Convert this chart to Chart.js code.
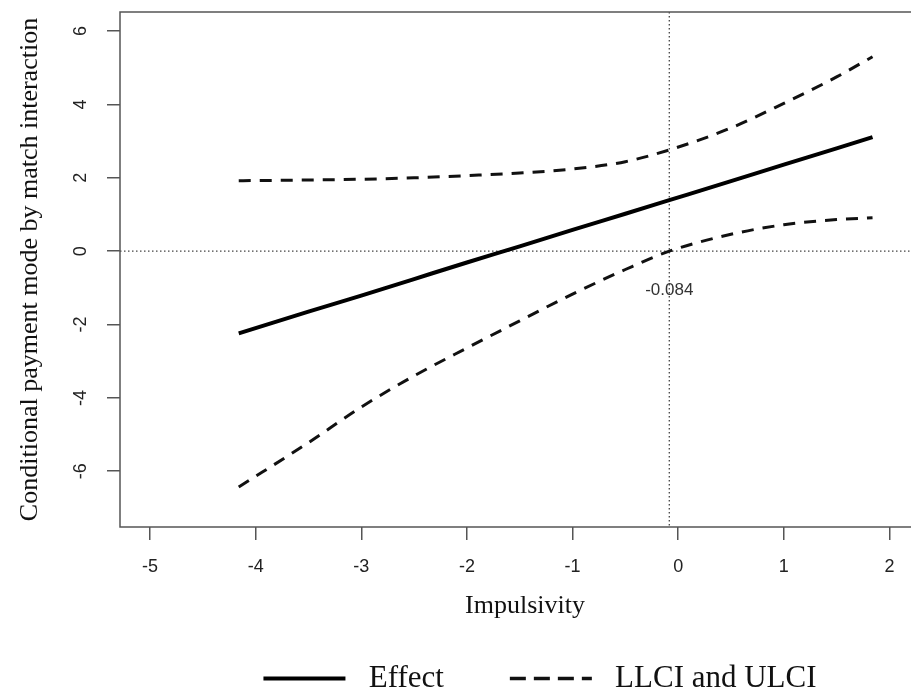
<!DOCTYPE html>
<html>
<head>
<meta charset="utf-8">
<title>Conditional effect by impulsivity</title>
<script src="https://cdn.jsdelivr.net/npm/chart.js@4.4.1/dist/chart.umd.min.js"></script>
<style>
  html, body { margin: 0; padding: 0; background: #fff; overflow: hidden; }
  #jn-chart { display: block; }
</style>
</head>
<body>
<canvas id="jn-chart" width="1080" height="704"></canvas>
<script>
/* ─── DATA ─── */
const impulsivity = [-4.16, -3.5, -3.0, -2.5, -2.0, -1.5, -1.0, -0.5, -0.084, 0.5, 1.0, 1.5, 1.84];
const effect      = [-2.24, -1.65, -1.21, -0.76, -0.31, 0.13, 0.58, 1.02, 1.39, 1.91, 2.36, 2.80, 3.11];
const llci        = [-6.43, -5.22, -4.25, -3.40, -2.64, -1.90, -1.17, -0.50, 0.00, 0.46, 0.72, 0.86, 0.91];
const ulci        = [1.92, 1.94, 1.96, 2.00, 2.06, 2.13, 2.24, 2.44, 2.76, 3.36, 4.03, 4.75, 5.30];

const xTicks = [-5, -4, -3, -2, -1, 0, 1, 2];
const yTicks = [-6, -4, -2, 0, 2, 4, 6];
const jnPoint = -0.084;   // Johnson-Neyman point

const xLabel = 'Impulsivity';
const yLabel = 'Conditional payment mode by match interaction';
const legendLabels = ['Effect', 'LLCI and ULCI'];

/* ─── STYLE ─── */
const SERIF = '"Liberation Serif", "DejaVu Serif", serif';
const SANS  = '"Liberation Sans", Arial, sans-serif';
const AXIS  = '#555';

const toPoints = ys => impulsivity.map((x, i) => ({ x, y: ys[i] }));

/* ─── PLUGINS ─── */
const refLines = {
  id: 'refLines',
  beforeDatasetsDraw(chart) {
    const { ctx, chartArea: a, scales: { x, y } } = chart;
    const y0 = y.getPixelForValue(0);
    const xj = x.getPixelForValue(jnPoint);
    ctx.save();
    ctx.font = '17px ' + SANS;
    ctx.fillStyle = '#333';
    ctx.textAlign = 'center';
    ctx.textBaseline = 'middle';
    ctx.fillText(jnPoint.toFixed(3), xj, y0 + 39);
    ctx.strokeStyle = '#444';
    ctx.lineWidth = 1.3;
    ctx.setLineDash([1.5, 2.5]);
    ctx.beginPath();
    ctx.moveTo(a.left, y0);  ctx.lineTo(a.right, y0);
    ctx.moveTo(xj, a.top);   ctx.lineTo(xj, a.bottom);
    ctx.stroke();
    ctx.restore();
  }
};

const frame = {
  id: 'frame',
  afterDatasetsDraw(chart) {
    const { ctx, chartArea: a } = chart;
    ctx.save();
    ctx.strokeStyle = AXIS;
    ctx.lineWidth = 1.5;
    ctx.strokeRect(a.left, a.top, a.right - a.left, a.bottom - a.top);
    ctx.restore();
  }
};

/* ─── CHART ─── */
new Chart(document.getElementById('jn-chart'), {
  type: 'scatter',
  data: {
    datasets: [
      { label: 'Effect', data: toPoints(effect), showLine: true, borderColor: '#000',
        borderWidth: 4, pointRadius: 0, cubicInterpolationMode: 'monotone' },
      { label: 'LLCI', data: toPoints(llci), showLine: true, borderColor: '#111',
        borderWidth: 3, borderDash: [12, 9], pointRadius: 0, cubicInterpolationMode: 'monotone' },
      { label: 'ULCI', data: toPoints(ulci), showLine: true, borderColor: '#111',
        borderWidth: 3, borderDash: [12, 9], pointRadius: 0, cubicInterpolationMode: 'monotone' }
    ]
  },
  options: {
    responsive: false,
    animation: false,
    events: [],
    layout: { padding: { top: 12, left: 0, right: 0, bottom: 0 } },
    plugins: {
      tooltip: { enabled: false },
      legend: {
        position: 'bottom',
        labels: {
          usePointStyle: true,
          pointStyleWidth: 82,
          padding: 66,
          font: { family: SERIF, size: 31 },
          color: '#111',
          generateLabels: () => [
            { text: ' ' + legendLabels[0], strokeStyle: '#000', fillStyle: 'rgba(0,0,0,0)', fontColor: '#111',
              lineWidth: 4, lineDash: [], pointStyle: 'line', rotation: 180, datasetIndex: 0 },
            { text: ' ' + legendLabels[1], strokeStyle: '#111', fillStyle: 'rgba(0,0,0,0)', fontColor: '#111',
              lineWidth: 3.5, lineDash: [16, 8], pointStyle: 'line', rotation: 180, datasetIndex: 1 }
          ]
        }
      }
    },
    scales: {
      x: {
        type: 'linear',
        min: -5.284,
        max: 2.384,
        afterBuildTicks: s => { s.ticks = xTicks.map(value => ({ value })); },
        afterFit: s => { s.height = 70; },
        border: { display: false },
        grid: { display: true, drawOnChartArea: false, drawTicks: true, tickLength: 13, color: AXIS, lineWidth: 1.5 },
        ticks: { padding: 16.7, color: '#222', font: { family: SANS, size: 18 }, maxRotation: 0, callback: v => String(v) },
        title: { display: true, text: xLabel, color: '#111', font: { family: SERIF, size: 26 },
                 padding: { top: 0, bottom: -24.6 } }
      },
      y: {
        type: 'linear',
        min: -7.52,
        max: 6.52,
        afterBuildTicks: s => { s.ticks = yTicks.map(value => ({ value })); },
        afterFit: s => { s.width = 120; s.paddingTop = 0; s.paddingBottom = 0; },
        border: { display: false },
        grid: { display: true, drawOnChartArea: false, drawTicks: true, tickLength: 13, color: AXIS, lineWidth: 1.5 },
        ticks: { padding: 18, crossAlign: 'center', minRotation: 90, maxRotation: 90,
                 color: '#222', font: { family: SANS, size: 18 }, callback: v => String(v) },
        title: { display: true, text: yLabel, color: '#111', font: { family: SERIF, size: 26 },
                 padding: { top: 14.5, bottom: 0 } }
      },
      // empty right-hand gutter: keeps the plot region where the cropped original had it
      gutter: {
        type: 'linear',
        position: 'right',
        display: true,
        afterFit: s => { s.width = 150; },
        border: { display: false },
        grid: { display: false, drawTicks: false },
        ticks: { display: false }
      }
    }
  },
  plugins: [refLines, frame]
});
</script>
</body>
</html>
